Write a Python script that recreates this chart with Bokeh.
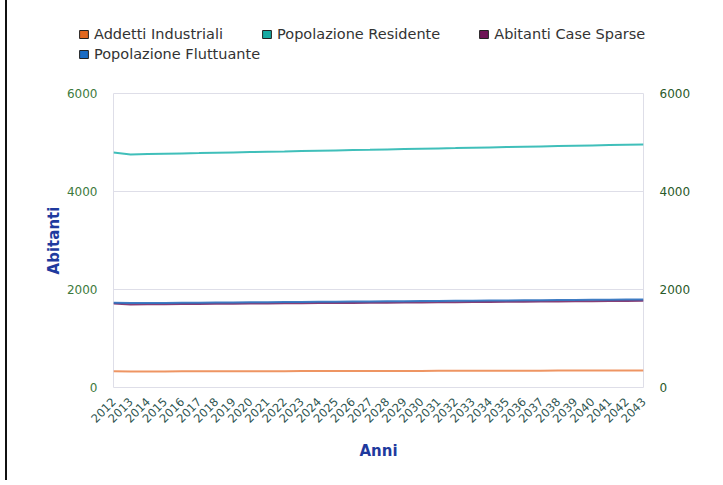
import math
from bokeh.plotting import figure
from bokeh.layouts import column
from bokeh.models import LinearAxis, FixedTicker, Legend, LegendItem, Range1d
from bokeh.embed import file_html
from bokeh.resources import INLINE

years = list(range(2012, 2044))
addetti = [330, 328, 329, 329, 330, 331, 331, 332, 333, 333, 334, 335, 335, 336, 337, 337,
           338, 339, 339, 340, 341, 341, 342, 343, 343, 344, 345, 345, 346, 347, 347, 348]
residente = [4795, 4757, 4764, 4771, 4778, 4784, 4791, 4798, 4805, 4812, 4818, 4825, 4832, 4839, 4846, 4852,
             4859, 4866, 4873, 4880, 4886, 4893, 4900, 4907, 4914, 4920, 4927, 4934, 4941, 4948, 4954, 4961]
case_sparse = [1712, 1694, 1697, 1699, 1702, 1704, 1707, 1709, 1712, 1714, 1717, 1719, 1722, 1724, 1727, 1729,
               1732, 1734, 1737, 1739, 1742, 1744, 1747, 1749, 1752, 1754, 1757, 1759, 1762, 1764, 1767, 1769]
fluttuante = [1728, 1722, 1725, 1727, 1730, 1732, 1735, 1737, 1740, 1742, 1745, 1747, 1750, 1752, 1755, 1757,
              1760, 1762, 1765, 1767, 1770, 1772, 1775, 1777, 1780, 1782, 1785, 1787, 1790, 1792, 1795, 1797]
y_ticks = [0, 2000, 4000, 6000]

series_names = ["Addetti Industriali", "Popolazione Residente", "Abitanti Case Sparse", "Popolazione Fluttuante"]
series_values = [addetti, residente, case_sparse, fluttuante]
line_colors = ["#ec8a52", "#2bb8b2", "#7a2a68", "#2a6fbe"]
swatch_colors = ["#e0671f", "#16aaa3", "#6e1456", "#1a6cc4"]

FONT = "DejaVu Sans"
EDGE = {"border-left": "2px solid #111111", "margin-left": "5px"}

# ---- legend strip (top) ----
lg = figure(width=708, height=72, output_backend="svg", toolbar_location=None,
            x_range=Range1d(0, 1), y_range=Range1d(0, 1),
            x_axis_location=None, y_axis_location=None,
            min_border_left=0, min_border_right=0, min_border_top=0, min_border_bottom=0)
lg.frame_align = False
lg.styles = EDGE
lg.grid.visible = False
lg.outline_line_color = None

items = []
for name, vals, sc in zip(series_names, series_values, swatch_colors):
    sw = lg.quad(left=years[:1], right=years[:1], top=vals[:1], bottom=vals[:1],
                 fill_color=sc, line_color="#222222", line_width=1)
    items.append(LegendItem(label=name, renderers=[sw]))


def make_legend(its, loc):
    return Legend(items=its, orientation="horizontal", location=loc,
                  label_text_font=FONT, label_text_font_size="14.5px", label_text_color="#333333",
                  glyph_width=11, glyph_height=10, spacing=38, padding=0, margin=0,
                  label_standoff=5, label_height=12, border_line_color=None,
                  background_fill_alpha=0)


lg.add_layout(make_legend(items[:3], (71, 30)))
lg.add_layout(make_legend(items[3:], (71, 10)))

# ---- main chart ----
p = figure(width=708, height=408, output_backend="svg", toolbar_location=None,
           x_range=Range1d(2012, 2043), y_range=Range1d(0, 6000),
           min_border_left=106, min_border_right=72, min_border_top=21, min_border_bottom=93)
p.frame_align = False
p.styles = EDGE

for vals, lc in zip(series_values, line_colors):
    p.line(years, vals, line_color=lc, line_width=2, line_alpha=0.9)

p.xaxis.ticker = FixedTicker(ticks=years)
p.xaxis.major_label_orientation = math.pi / 4
p.xaxis.axis_label = "Anni"

p.yaxis.ticker = FixedTicker(ticks=y_ticks)
p.yaxis.axis_label = "Abitanti"

right = LinearAxis(ticker=FixedTicker(ticks=y_ticks))
p.add_layout(right, "right")

for ax in p.axis:
    ax.axis_line_color = None
    ax.major_tick_line_color = None
    ax.minor_tick_line_color = None
    ax.major_label_text_font = FONT
    ax.major_label_text_font_size = "12px"
    ax.axis_label_text_font = FONT
    ax.axis_label_text_font_style = "bold"
    ax.axis_label_text_color = "#1f3a9e"
    ax.axis_label_text_font_size = "15px"

p.xaxis.major_label_text_font_size = "11.5px"
p.xaxis.major_label_text_color = "#2e5450"
p.yaxis.major_label_text_color = "#3d7a3d"
right.major_label_text_color = "#2a5a2a"
p.yaxis.major_label_standoff = 10
right.major_label_standoff = 10
p.xaxis.major_label_standoff = 6
p.xaxis.axis_label_standoff = 12
p.yaxis.axis_label_standoff = 1

p.xgrid.grid_line_color = None
p.ygrid.grid_line_color = "#dedee8"
p.ygrid.ticker = FixedTicker(ticks=y_ticks)
p.outline_line_color = "#dedee8"

open("out.html", "w").write(file_html(column(lg, p, spacing=0), INLINE))
